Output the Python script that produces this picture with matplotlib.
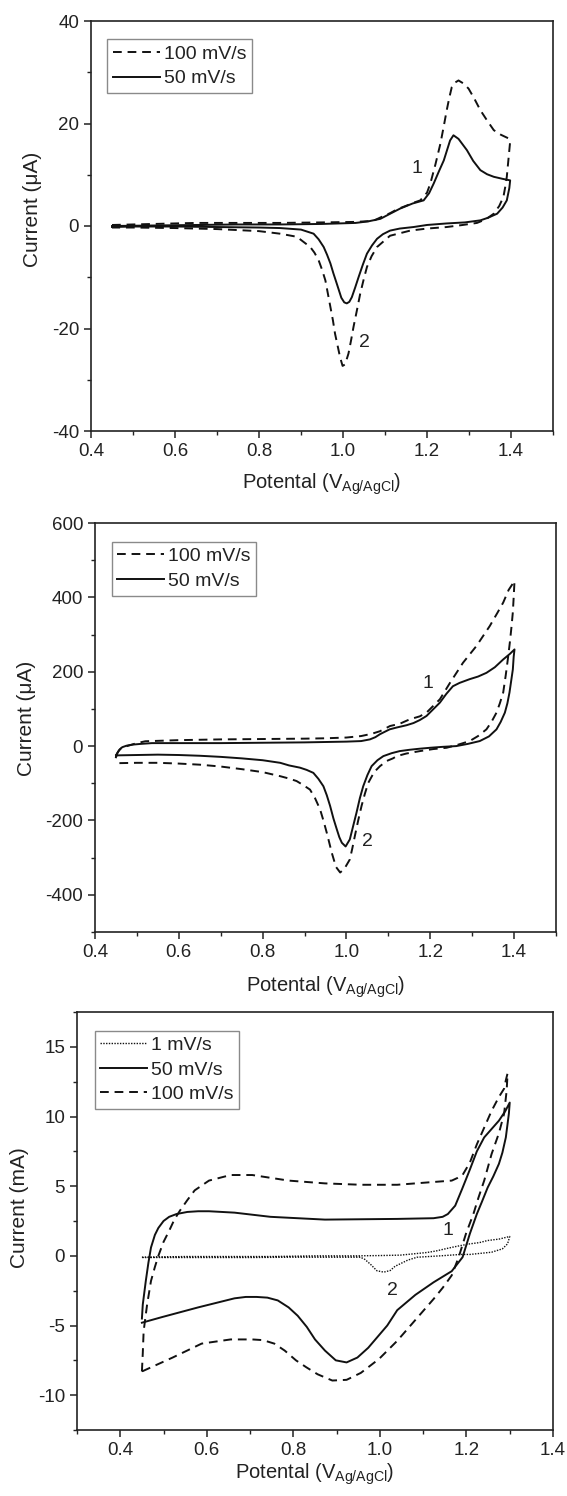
import matplotlib
matplotlib.use("Agg")
import matplotlib.pyplot as plt
from matplotlib.ticker import MultipleLocator

plt.rcParams['font.family'] = ['Liberation Sans', 'DejaVu Sans']
plt.rcParams['mathtext.fontset'] = 'custom'
plt.rcParams['mathtext.rm'] = 'Liberation Sans'
plt.rcParams['axes.unicode_minus'] = False

# panel 1 (uA) - 50 mV/s, loop starts at 0.45 V on the anodic branch
p1_50_x = [0.45, 0.55, 0.65, 0.75, 0.85, 0.95, 1.03, 1.06, 1.089, 1.11, 1.136, 1.166, 1.192, 1.205,
           1.216, 1.228, 1.24, 1.255, 1.263, 1.275, 1.295, 1.31, 1.327, 1.343, 1.359, 1.38, 1.398,
           1.396, 1.39, 1.38, 1.367, 1.345, 1.327, 1.29, 1.247, 1.2, 1.168, 1.135, 1.112, 1.095,
           1.081, 1.069, 1.057, 1.047, 1.037, 1.029, 1.021, 1.015, 1.009, 1.003, 0.996, 0.985,
           0.977, 0.97, 0.962, 0.954, 0.942, 0.93, 0.9, 0.85, 0.8, 0.7, 0.6, 0.5, 0.45]
p1_50_y = [0.0, 0.1, 0.2, 0.3, 0.3, 0.4, 0.6, 0.9, 1.4, 2.3, 3.4, 4.4, 5.0, 6.4,
           8.3, 10.6, 12.8, 16.7, 17.7, 17.0, 14.8, 12.7, 10.9, 10.1, 9.6, 9.2, 8.9,
           7.4, 5.0, 3.6, 2.4, 1.6, 1.1, 0.7, 0.5, 0.2, -0.2, -0.5, -0.9, -1.6,
           -2.5, -3.8, -5.4, -7.6, -10.0, -12.0, -13.9, -14.8, -15.1, -14.9, -14.0, -11.2,
           -9.2, -7.3, -5.6, -4.1, -2.6, -1.5, -0.7, -0.4, -0.3, -0.2, -0.1, -0.1, -0.2]

# panel 1 - 100 mV/s
p1_100_x = [0.45, 0.55, 0.65, 0.75, 0.85, 0.95, 1.03, 1.072, 1.09, 1.112, 1.13, 1.152, 1.17, 1.184,
            1.2, 1.208, 1.22, 1.232, 1.24, 1.247, 1.253, 1.259, 1.267, 1.275, 1.287, 1.299, 1.313,
            1.327, 1.343, 1.359, 1.376, 1.394, 1.398, 1.396, 1.393, 1.39, 1.386, 1.382, 1.372,
            1.359, 1.34, 1.319, 1.285, 1.247, 1.2, 1.16, 1.112, 1.081, 1.068, 1.057, 1.049, 1.041,
            1.033, 1.025, 1.019, 1.013, 1.005, 0.999, 0.993, 0.987, 0.981, 0.976, 0.97, 0.964,
            0.958, 0.95, 0.942, 0.932, 0.922, 0.89, 0.85, 0.8, 0.7, 0.6, 0.5, 0.45]
p1_100_y = [0.2, 0.4, 0.6, 0.6, 0.6, 0.7, 0.8, 1.0, 1.7, 2.5, 3.3, 4.0, 4.6, 5.0,
            6.5, 8.3, 12.0, 16.1, 19.5, 22.6, 25.0, 27.1, 28.0, 28.4, 27.8, 26.8, 24.8,
            22.6, 20.6, 18.7, 17.8, 17.1, 16.5, 14.8, 12.2, 9.6, 7.5, 5.7, 3.9,
            2.4, 1.3, 0.6, 0.2, -0.2, -0.5, -0.9, -1.9, -4.1, -5.9, -8.0, -10.5, -13.2,
            -16.5, -19.7, -22.4, -24.9, -27.0, -27.3, -25.6, -23.3, -21.0, -18.4, -15.8, -13.2,
            -10.6, -8.5, -6.7, -5.2, -4.1, -2.1, -1.5, -1.0, -0.6, -0.4, -0.3, -0.3]

# panel 2 (uA) - 50 mV/s
p2_50_x = [0.45, 0.453, 0.458, 0.465, 0.475, 0.49, 0.51, 0.536, 0.6, 0.7, 0.8, 0.9, 1.0, 1.035,
           1.056, 1.069, 1.08, 1.103, 1.12, 1.143, 1.16, 1.175, 1.191, 1.207, 1.223, 1.238,
           1.254, 1.27, 1.294, 1.314, 1.334, 1.354, 1.374, 1.39, 1.401,
           1.399, 1.397, 1.393, 1.389, 1.384, 1.378, 1.368, 1.358, 1.34, 1.318, 1.29, 1.262,
           1.23, 1.2, 1.175, 1.15, 1.127, 1.108, 1.088, 1.074, 1.06, 1.05, 1.04, 1.032, 1.024,
           1.016, 1.008, 0.998, 0.989, 0.983, 0.977, 0.969, 0.961, 0.953, 0.945, 0.933, 0.921,
           0.905, 0.889, 0.863, 0.842, 0.8, 0.75, 0.7, 0.65, 0.6, 0.55, 0.5, 0.45]
p2_50_y = [-30, -20, -10, -3, 1, 4, 6, 8, 8, 8, 9, 10, 12, 13.5,
           18, 24, 32, 45, 50, 56, 62, 70, 81, 99, 117, 140,
           161, 170, 180, 187, 197, 212, 233, 248, 260,
           240, 206, 175, 144, 115, 90, 65, 45, 26, 13.5, 6, 0,
           -2, -4.5, -7, -10, -13.5, -19, -27, -38, -54, -78, -108, -140, -179,
           -215, -251, -270, -260, -245, -224, -195, -161, -132, -108, -88, -72,
           -64, -58, -52, -45, -38, -33, -29, -26, -24, -23, -24, -25]

# panel 2 - 100 mV/s
p2_100_x = [0.45, 0.455, 0.462, 0.476, 0.5, 0.52, 0.6, 0.7, 0.8, 0.9, 0.95, 1.0, 1.035, 1.06,
            1.08, 1.104, 1.127, 1.151, 1.175, 1.191, 1.207, 1.223, 1.247, 1.278, 1.31, 1.342,
            1.361, 1.374, 1.387, 1.401,
            1.399, 1.397, 1.394, 1.39, 1.385, 1.38, 1.374, 1.366, 1.358, 1.346, 1.334, 1.314,
            1.294, 1.267, 1.239, 1.207, 1.175, 1.143, 1.12, 1.111, 1.096, 1.08, 1.066, 1.052,
            1.044, 1.036, 1.028, 1.02, 1.014, 1.008, 0.995, 0.985, 0.975, 0.965, 0.959, 0.953,
            0.945, 0.937, 0.925, 0.913, 0.897, 0.881, 0.862, 0.842, 0.8, 0.75, 0.7, 0.65, 0.6,
            0.55, 0.5, 0.45]
p2_100_y = [-25, -15, -6, 0, 8, 13, 16, 18, 19, 20, 21, 23, 27, 33,
            40, 54, 60, 72, 80, 90, 108, 126, 170, 224, 269, 323,
            360, 386, 420, 444,
            400, 360, 323, 280, 233, 190, 144, 115, 90, 65, 45, 27,
            13.5, 4, -4.5, -8, -13.5, -20, -27, -33, -40, -54, -70, -99,
            -128, -161, -200, -242, -275, -305, -330, -340, -325, -287, -260, -233,
            -200, -170, -140, -117, -105, -94, -87, -81, -70, -62, -55, -50, -47,
            -45, -45, -46]

# panel 3 (mA) - 1 mV/s
p3_1_x = [0.45, 0.55, 0.65, 0.75, 0.85, 0.95, 1.0, 1.047, 1.08, 1.109, 1.13, 1.148, 1.168,
          1.187, 1.208, 1.23, 1.249, 1.275, 1.3,
          1.295, 1.283, 1.258, 1.208, 1.187, 1.14, 1.086, 1.065, 1.047, 1.035, 1.024, 1.009,
          0.993, 0.978, 0.965, 0.955, 0.9, 0.8, 0.7, 0.6, 0.5, 0.45]
p3_1_y = [-0.1, -0.05, -0.05, -0.05, 0.0, 0.0, 0.02, 0.05, 0.15, 0.24, 0.35, 0.48, 0.62,
          0.74, 0.86, 0.95, 1.1, 1.2, 1.39,
          0.86, 0.5, 0.26, 0.1, 0.1, 0.0, -0.1, -0.3, -0.57, -0.75, -1.05, -1.17,
          -1.07, -0.6, -0.25, -0.1, -0.1, -0.1, -0.12, -0.12, -0.12, -0.12]

# panel 3 - 50 mV/s
p3_50_x = [0.45, 0.452, 0.459, 0.465, 0.471, 0.48, 0.488, 0.5, 0.513, 0.53, 0.555, 0.58, 0.605,
           0.664, 0.747, 0.873, 1.04, 1.124, 1.145, 1.157, 1.174, 1.19, 1.208, 1.224, 1.241,
           1.258, 1.275, 1.29, 1.3,
           1.298, 1.291, 1.283, 1.275, 1.262, 1.249, 1.236, 1.224, 1.208, 1.191, 1.166, 1.124,
           1.082, 1.04, 1.017, 0.995, 0.973, 0.948, 0.923, 0.898, 0.873, 0.85, 0.831, 0.81,
           0.789, 0.764, 0.74, 0.715, 0.69, 0.664, 0.58, 0.496, 0.45]
p3_50_y = [-4.5, -3.5, -1.8, -0.5, 0.6, 1.5, 2.0, 2.5, 2.8, 3.0, 3.15, 3.2, 3.2,
           3.1, 2.8, 2.6, 2.65, 2.7, 2.8, 3.0, 3.6, 4.8, 6.2, 7.5, 8.5,
           9.1, 9.7, 10.4, 11.0,
           10.2, 8.5, 7.4, 6.6, 5.7, 4.9, 3.9, 3.0, 1.6, -0.1, -1.1, -1.9,
           -2.8, -3.9, -5.0, -5.8, -6.6, -7.3, -7.65, -7.5, -6.8, -6.0, -5.1, -4.3,
           -3.7, -3.2, -3.0, -2.95, -2.95, -3.05, -3.7, -4.4, -4.8]

# panel 3 - 100 mV/s
p3_100_x = [0.45, 0.452, 0.454, 0.462, 0.471, 0.48, 0.488, 0.5, 0.513, 0.525, 0.538, 0.555,
            0.572, 0.605, 0.655, 0.705, 0.789, 0.873, 0.956, 1.04, 1.124, 1.166, 1.18, 1.191,
            1.208, 1.224, 1.241, 1.258, 1.275, 1.283, 1.287, 1.291, 1.295,
            1.293, 1.287, 1.275, 1.258, 1.241, 1.228, 1.216, 1.199, 1.182, 1.166, 1.145, 1.124,
            1.082, 1.04, 0.998, 0.956, 0.923, 0.89, 0.856, 0.83, 0.806, 0.78, 0.756, 0.73,
            0.705, 0.655, 0.588, 0.521, 0.45]
p3_100_y = [-8.3, -7.0, -5.4, -3.5, -1.8, -0.8, 0.0, 1.0, 1.8, 2.6, 3.25, 4.0,
            4.7, 5.4, 5.8, 5.8, 5.4, 5.2, 5.1, 5.1, 5.3, 5.4, 5.6, 5.8,
            6.7, 8.0, 9.2, 10.4, 11.4, 11.8, 12.0, 12.6, 13.1,
            11.9, 10.2, 8.8, 7.3, 5.4, 4.2, 3.0, 1.6, -0.1, -1.4, -2.3, -3.1,
            -4.6, -6.1, -7.4, -8.4, -8.9, -8.95, -8.5, -8.0, -7.5, -6.8, -6.3, -6.05,
            -6.0, -6.0, -6.3, -7.3, -8.3]

W, H = 567, 1496
fig = plt.figure(figsize=(W / 100, H / 100), dpi=100)


def make_axes(left, top, right, bottom):
    # pixel box -> figure fraction
    return fig.add_axes([left / W, 1 - bottom / H, (right - left) / W, (bottom - top) / H])


def style(ax, xlim, ylim, xmajor, xminor, ymajor, yminor, ylab, ylab_x, ylab_y, xlab_y):
    ax.set_xlim(*xlim)
    ax.set_ylim(*ylim)
    ax.set_xticks(xmajor)
    ax.xaxis.set_minor_locator(MultipleLocator(xminor))
    ax.set_yticks(ymajor)
    ax.yaxis.set_minor_locator(MultipleLocator(yminor))
    ax.tick_params(which='major', direction='out', length=5, width=1.1, labelsize=13.5,
                   colors='#222222', pad=3.5)
    ax.tick_params(which='minor', direction='out', length=3, width=1.0, colors='#222222')
    for s in ax.spines.values():
        s.set_linewidth(1.2)
        s.set_color('#222222')
    ax.set_ylabel(ylab, fontsize=15, color='#222222')
    ax.yaxis.set_label_coords(ylab_x, ylab_y)
    ax.set_xlabel('Potental (V$_{\\mathregular{Ag/AgCl}}$)', fontsize=14.5, color='#222222')
    ax.xaxis.set_label_coords(0.5, xlab_y)


def add_legend(ax, x, y):
    leg = ax.legend(loc='upper left', bbox_to_anchor=(x, y), borderaxespad=0, fontsize=14,
                    frameon=True, fancybox=False, framealpha=1, edgecolor='#8a8a8a',
                    handlelength=2.4, handletextpad=0.2, labelspacing=0.35, borderpad=0.3)
    leg.get_frame().set_linewidth(1.0)
    for t in leg.get_texts():
        t.set_color('#222222')


dash = (4.5, 3)
dot = (0, (1, 1))
lc = '#111111'

# panel 1
ax1 = make_axes(91, 21, 553, 431)
ax1.plot(p1_100_x, p1_100_y, color=lc, lw=1.4, dashes=dash, label='100 mV/s')
ax1.plot(p1_50_x, p1_50_y, color=lc, lw=1.4, label='50 mV/s')
style(ax1, (0.4, 1.5), (-40, 40), [0.4, 0.6, 0.8, 1.0, 1.2, 1.4], 0.1,
      [-40, -20, 0, 20, 40], 10, 'Current (\u03bcA)', -0.107, 0.54, -0.098)
add_legend(ax1, 0.035, 0.955)
ax1.text(1.175, 11.2, '1', fontsize=14, ha='center', va='center', color='#222222')
ax1.text(1.05, -22.7, '2', fontsize=14, ha='center', va='center', color='#222222')

# panel 2
ax2 = make_axes(95, 523, 556, 932)
ax2.plot(p2_100_x, p2_100_y, color=lc, lw=1.4, dashes=dash, label='100 mV/s')
ax2.plot(p2_50_x, p2_50_y, color=lc, lw=1.4, label='50 mV/s')
style(ax2, (0.4, 1.5), (-500, 600), [0.4, 0.6, 0.8, 1.0, 1.2, 1.4], 0.1,
      [-400, -200, 0, 200, 400, 600], 100, 'Current (\u03bcA)', -0.127, 0.523, -0.103)
add_legend(ax2, 0.036, 0.954)
ax2.text(1.194, 169, '1', fontsize=14, ha='center', va='center', color='#222222')
ax2.text(1.05, -256, '2', fontsize=14, ha='center', va='center', color='#222222')

# panel 3
ax3 = make_axes(77, 1012, 553, 1430)
ax3.plot(p3_1_x, p3_1_y, color=lc, lw=1.0, linestyle=dot, label='1 mV/s')
ax3.plot(p3_50_x, p3_50_y, color=lc, lw=1.4, label='50 mV/s')
ax3.plot(p3_100_x, p3_100_y, color=lc, lw=1.4, dashes=dash, label='100 mV/s')
style(ax3, (0.3, 1.4), (-12.5, 17.5), [0.4, 0.6, 0.8, 1.0, 1.2, 1.4], 0.1,
      [-10, -5, 0, 5, 10, 15], 2.5, 'Current (mA)', -0.1, 0.533, -0.075)
add_legend(ax3, 0.037, 0.955)
ax3.text(1.157, 1.8, '1', fontsize=14, ha='center', va='center', color='#222222')
ax3.text(1.028, -2.5, '2', fontsize=14, ha='center', va='center', color='#222222')

fig.savefig('out.png', dpi=100, facecolor='white')
